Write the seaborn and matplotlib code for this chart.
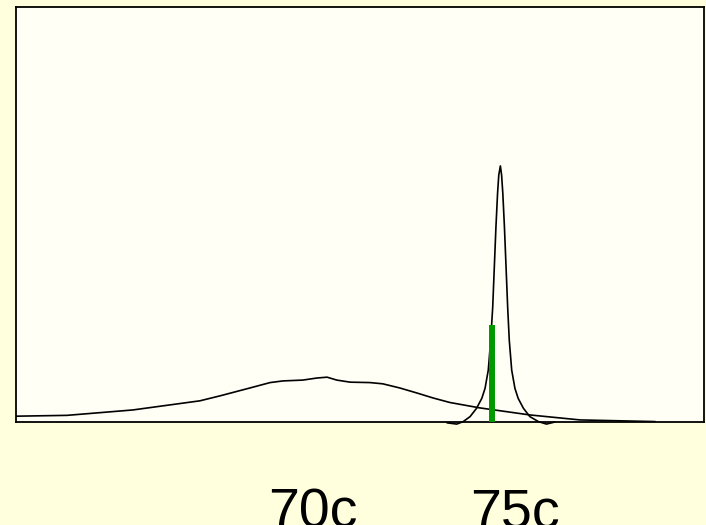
import matplotlib
matplotlib.use('Agg')
import matplotlib.pyplot as plt
import seaborn as sns
import pandas as pd

# broad curve (cents, relative height)
broad_x = [62.65, 63.91, 65.54, 67.20, 67.70, 68.44, 68.94, 69.26, 69.75, 70.10, 70.35, 70.59,
           70.92, 71.41, 71.73, 72.15, 72.57, 72.97, 73.39, 74.13, 75.37, 76.61, 78.47]
broad_y = [0.014, 0.016, 0.029, 0.051, 0.063, 0.082, 0.095, 0.099, 0.101, 0.106, 0.108, 0.101,
           0.096, 0.095, 0.092, 0.082, 0.070, 0.058, 0.047, 0.034, 0.017, 0.005, 0.001]

# narrow peak
peak_x = [73.32, 73.56, 73.72, 73.89, 74.05, 74.18, 74.26, 74.34, 74.40, 74.45, 74.49, 74.53,
          74.57, 74.60, 74.64, 74.67, 74.70, 74.74, 74.78, 74.82, 74.86, 74.92, 75.00, 75.08,
          75.21, 75.37, 75.58, 75.78, 75.99]
peak_y = [-0.002, -0.005, 0.001, 0.013, 0.033, 0.057, 0.081, 0.125, 0.197, 0.277, 0.374, 0.470,
          0.551, 0.595, 0.617, 0.595, 0.551, 0.470, 0.374, 0.277, 0.197, 0.125, 0.081, 0.057,
          0.033, 0.013, 0.001, -0.005, 0.0]

# green marker
marker_x = 74.44
marker_h = 0.234

tick_pos = [70, 75]
tick_labels = ['70c', '75c']

sns.set_style('white')
plt.rcParams['font.family'] = ['Liberation Sans', 'DejaVu Sans']

fig = plt.figure(figsize=(7.06, 5.25), dpi=100, facecolor='#FFFFDD')
ax = fig.add_axes([16 / 706, 103 / 525, 688 / 706, 415 / 525])
ax.set_facecolor('#FFFFF5')

df_broad = pd.DataFrame({'x': broad_x, 'y': broad_y})
df_peak = pd.DataFrame({'x': peak_x, 'y': peak_y})
sns.lineplot(data=df_broad, x='x', y='y', color='black', linewidth=1.2, sort=False, ax=ax)
sns.lineplot(data=df_peak, x='x', y='y', color='black', linewidth=1.2, sort=False, ax=ax, clip_on=False)
ax.vlines(marker_x, 0, marker_h, color='#009900', linewidth=4.3, zorder=3)

ax.set_xlim(62.65, 79.68)
ax.set_ylim(0, 1)
ax.set_xticks(tick_pos)
ax.set_xticklabels(tick_labels, fontsize=40, color='black')
ax.tick_params(axis='x', length=0, pad=47)
ax.set_yticks([])
ax.set_xlabel('')
ax.set_ylabel('')
for spine in ax.spines.values():
    spine.set_visible(True)
    spine.set_color('black')
    spine.set_linewidth(1.3)

fig.savefig('out.png', dpi=100, facecolor=fig.get_facecolor())
plt.close(fig)
